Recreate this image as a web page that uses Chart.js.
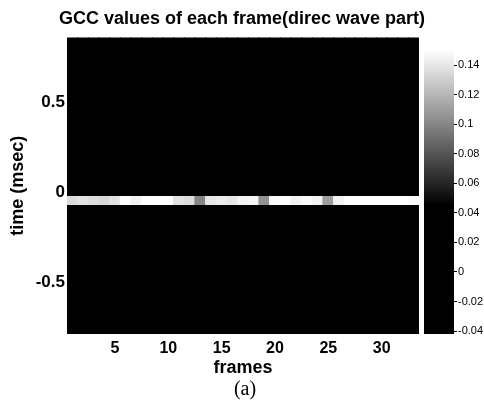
<!DOCTYPE html>
<html>
<head>
<meta charset="utf-8">
<script src="https://cdn.jsdelivr.net/npm/chart.js@4.4.0/dist/chart.umd.min.js"></script>
<style>
    html, body { margin: 0; padding: 0; background: #fff; }
    #marco { position: relative; width: 484px; height: 404px; overflow: hidden; }
    #graficoGcc { position: absolute; left: 0; top: 0; }
    #barraColor { position: absolute; left: 424px; top: 0; }
    #etiqueta {
        position: absolute; left: 0; width: 490px; top: 377px;
        text-align: center; font-family: "Liberation Serif", serif;
        font-size: 20px; line-height: 22px; color: #000;
    }
</style>
</head>
<body>
<div id="marco">
    <canvas id="graficoGcc" width="484" height="404"></canvas>
    <canvas id="barraColor" width="60" height="404"></canvas>
    <div id="etiqueta">(a)</div>
</div>
<script>
const TITULO = "GCC values of each frame(direc wave part)";

const FRAMES = ["1", "2", "3", "4", "5", "6", "7", "8", "9", "10", "11",
    "12", "13", "14", "15", "16", "17", "18", "19", "20", "21", "22",
    "23", "24", "25", "26", "27", "28", "29", "30", "31", "32", "33"];

// bordes de las filas de retardo (msec)
const BORDES_RETARDO = [-0.825, -0.775, -0.725, -0.675, -0.625, -0.575,
    -0.525, -0.475, -0.425, -0.375, -0.325, -0.275, -0.225, -0.175,
    -0.125, -0.075, -0.025, 0.025, 0.075, 0.125, 0.175, 0.225, 0.275,
    0.325, 0.375, 0.425, 0.475, 0.525, 0.575, 0.625, 0.675, 0.725,
    0.775, 0.825, 0.875];

// fila de la onda directa
const FILA_DIRECTA = 15;

const GCC_DIRECTA = [0.135, 0.138, 0.136, 0.134, 0.138, 0.152, 0.145, 0.15,
    0.155, 0.152, 0.138, 0.136, 0.1, 0.14, 0.142, 0.14, 0.145, 0.146,
    0.105, 0.148, 0.15, 0.145, 0.148, 0.145, 0.11, 0.145, 0.152, 0.15,
    0.152, 0.15, 0.155, 0.15, 0.148];

const GCC_FONDO = [0.004, -0.006, 0.01, 0.002, -0.004, 0.008, 0.0, -0.01,
    0.006, 0.012, -0.002, 0.004, 0.01, -0.008, 0.002, 0.006, -0.004, 0.0,
    0.008, -0.006, 0.004, 0.01, -0.002, 0.006, 0.012, 0.002, -0.008,
    0.004, 0.0, 0.008, -0.004, 0.006, 0.002];

const RANGO_TIEMPO = [-0.79, 0.86];
const RANGO_COLOR = [-0.042, 0.1583];
const NEGRO_HASTA = 0.045;
const BLANCO_DESDE = 0.15;

const FUENTE = "'Liberation Sans', Arial, sans-serif";

function colorGcc(valor) {
    let t = (valor - NEGRO_HASTA) / (BLANCO_DESDE - NEGRO_HASTA);
    t = Math.max(0, Math.min(1, t));
    const g = Math.round(255 * t);
    return `rgb(${g},${g},${g})`;
}

function formatoTick(valor) {
    return String(Math.round(valor * 1000) / 1000);
}

function crearFilas() {
    const filas = [];
    for (let i = 0; i < BORDES_RETARDO.length - 1; i++) {
        const valores = i === FILA_DIRECTA ? GCC_DIRECTA : GCC_FONDO;
        filas.push({
            data: FRAMES.map(() => [BORDES_RETARDO[i], BORDES_RETARDO[i + 1]]),
            backgroundColor: valores.map(colorGcc),
            borderWidth: 0,
            inflateAmount: 0.6,
            grouped: false,
            barPercentage: 1,
            categoryPercentage: 1
        });
    }
    return filas;
}

function crearMapa() {
    new Chart(document.getElementById("graficoGcc"), {
        type: "bar",
        data: { labels: FRAMES, datasets: crearFilas() },
        options: {
            responsive: false,
            animation: false,
            layout: { padding: { left: 0, right: 0, top: 0, bottom: 25 } },
            plugins: {
                legend: { display: false },
                tooltip: { enabled: false },
                title: {
                    display: true,
                    text: TITULO,
                    color: "#000",
                    font: { family: FUENTE, size: 18, weight: "bold" },
                    padding: { top: 8, bottom: 8 }
                }
            },
            scales: {
                x: {
                    grid: { display: false, drawTicks: false },
                    border: { display: false },
                    ticks: {
                        autoSkip: false,
                        maxRotation: 0,
                        padding: 5,
                        color: "#000",
                        font: { family: FUENTE, size: 16, weight: "bold" },
                        callback: (v, i) => ((i + 1) % 5 === 0 ? FRAMES[i] : "")
                    },
                    title: {
                        display: true,
                        text: "frames",
                        color: "#000",
                        font: { family: FUENTE, size: 18, weight: "bold" },
                        padding: { top: 0, bottom: 0 }
                    },
                    afterFit: escala => { escala.height = 45; }
                },
                y: {
                    min: RANGO_TIEMPO[0],
                    max: RANGO_TIEMPO[1],
                    grid: { display: false, drawTicks: false },
                    border: { display: false },
                    ticks: {
                        stepSize: 0.5,
                        includeBounds: false,
                        padding: 2,
                        color: "#000",
                        font: { family: FUENTE, size: 17, weight: "bold" },
                        callback: formatoTick
                    },
                    title: {
                        display: true,
                        text: "time (msec)",
                        color: "#000",
                        font: { family: FUENTE, size: 18, weight: "bold" },
                        padding: { top: 7, bottom: 0 }
                    },
                    afterFit: escala => { escala.width = 67; }
                },
                // hueco a la derecha donde va la barra de color
                hueco: {
                    type: "linear",
                    position: "right",
                    grid: { display: false },
                    border: { display: false },
                    ticks: { display: false },
                    afterFit: escala => { escala.width = 65; }
                }
            }
        }
    });
}

function degradado(contexto) {
    const grafico = contexto.chart;
    const escala = grafico.scales.y;
    if (!escala || !grafico.chartArea) {
        return "#000";
    }
    const g = grafico.ctx.createLinearGradient(
        0, escala.getPixelForValue(NEGRO_HASTA),
        0, escala.getPixelForValue(BLANCO_DESDE));
    g.addColorStop(0, "#000");
    g.addColorStop(1, "#fff");
    return g;
}

function crearBarraColor() {
    new Chart(document.getElementById("barraColor"), {
        type: "bar",
        data: {
            labels: ["gcc"],
            datasets: [{
                data: [RANGO_COLOR],
                backgroundColor: degradado,
                borderWidth: 0,
                barPercentage: 1,
                categoryPercentage: 1
            }]
        },
        options: {
            responsive: false,
            animation: false,
            layout: { padding: { left: 0, right: 0, top: 38, bottom: 70 } },
            plugins: {
                legend: { display: false },
                tooltip: { enabled: false }
            },
            scales: {
                x: { display: false },
                y: {
                    position: "right",
                    min: RANGO_COLOR[0],
                    max: RANGO_COLOR[1],
                    grid: { drawOnChartArea: false, tickLength: 3, color: "#000" },
                    border: { display: false },
                    ticks: {
                        stepSize: 0.02,
                        includeBounds: false,
                        padding: 1,
                        color: "#000",
                        font: { family: FUENTE, size: 11 },
                        callback: formatoTick
                    },
                    afterFit: escala => { escala.width = 30; }
                }
            }
        }
    });
}

crearMapa();
crearBarraColor();
</script>
</body>
</html>
